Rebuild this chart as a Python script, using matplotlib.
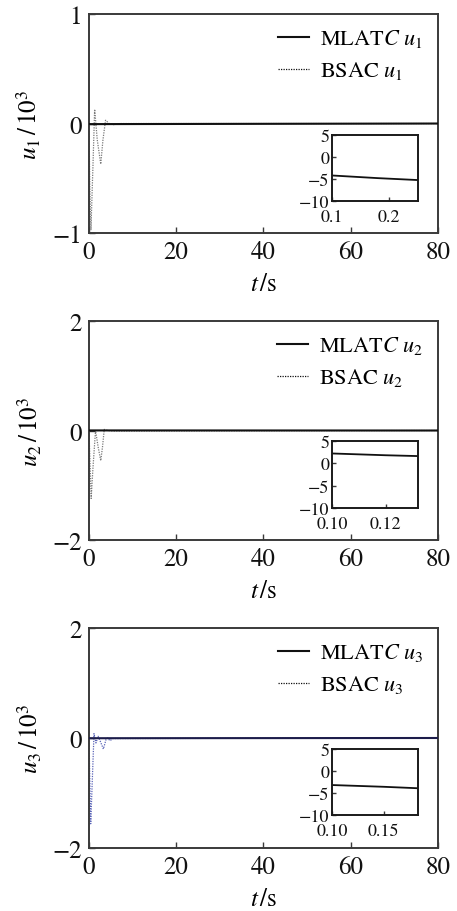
import matplotlib
matplotlib.use("Agg")
import numpy as np
import matplotlib.pyplot as plt

plt.rcParams["font.family"] = "STIXGeneral"
plt.rcParams["mathtext.fontset"] = "stix"

# BSAC control inputs (units of 10^3)
bsac_t1 = [0, 0.2, 0.45, 0.9, 1.3, 1.9, 2.7, 3.2, 3.8, 4.6, 5.6, 7, 80]
bsac_u1 = [0, -0.6, -0.97, -0.40, 0.13, -0.15, -0.37, -0.15, 0.03, 0.0, -0.01, 0, 0]
bsac_t2 = [0, 0.5, 0.9, 1.5, 2.1, 2.7, 3.1, 3.5, 4.3, 5.5, 80]
bsac_u2 = [0, -1.24, -0.70, 0.0, -0.3, -0.55, -0.3, 0.02, 0.0, -0.01, 0]
bsac_t3 = [0, 0.4, 1.15, 1.6, 2.1, 2.7, 3.3, 3.9, 4.3, 4.8, 5.5, 80]
bsac_u3 = [0, -1.56, 0.08, -0.09, 0.03, -0.08, -0.2, -0.03, 0.0, -0.05, -0.01, 0]

# MLATC control inputs (raw units)
mlatc_t1 = [0, 0.1, 0.18, 0.26, 80]
mlatc_u1 = [-4.0, -4.2, -4.8, -5.3, 0]
mlatc_t2 = [0, 0.1, 0.12, 0.133, 80]
mlatc_u2 = [2.2, 2.2, 1.8, 1.6, 0]
mlatc_t3 = [0, 0.1, 0.15, 0.19, 80]
mlatc_u3 = [-3.2, -3.2, -3.6, -4.0, 0]

panels = [
    dict(bt=bsac_t1, bu=bsac_u1, mt=mlatc_t1, mu=mlatc_u1, ylim=1, idx="1",
         ix=(0.1, 0.251), ixt=[0.1, 0.2], ixl=["0.1", "0.2"],
         bsac_c="#7a7a7a", mlatc_c="#111111"),
    dict(bt=bsac_t2, bu=bsac_u2, mt=mlatc_t2, mu=mlatc_u2, ylim=2, idx="2",
         ix=(0.1, 0.132), ixt=[0.10, 0.12], ixl=["0.10", "0.12"],
         bsac_c="#7a7a7a", mlatc_c="#111111"),
    dict(bt=bsac_t3, bu=bsac_u3, mt=mlatc_t3, mu=mlatc_u3, ylim=2, idx="3",
         ix=(0.1, 0.183), ixt=[0.10, 0.15], ixl=["0.10", "0.15"],
         bsac_c="#5a64b8", mlatc_c="#1c1c4a"),
]

main_rects = [
    [0.1947, 0.7434, 0.7637, 0.2401],
    [0.1947, 0.4068, 0.7637, 0.2401],
    [0.1947, 0.0691, 0.7637, 0.2412],
]
inset_rects = [
    [0.7265, 0.7785, 0.1882, 0.0724],
    [0.7265, 0.4419, 0.1882, 0.0735],
    [0.7265, 0.1053, 0.1882, 0.0724],
]

FRAME = "#3a3a3a"

fig = plt.figure(figsize=(4.57, 9.12), dpi=100)

for p, rect, irect in zip(panels, main_rects, inset_rects):
    ax = fig.add_axes(rect)
    mu_main = np.asarray(p["mu"]) / 1000.0
    ax.plot(p["mt"], mu_main, color=p["mlatc_c"], lw=1.5,
            label=r"MLAT$C\ u_{%s}$" % p["idx"], zorder=3)
    ax.plot(p["bt"], p["bu"], color=p["bsac_c"], lw=0.9, ls=(0, (1, 1)),
            label=r"BSAC$\ u_{%s}$" % p["idx"], zorder=2)
    ax.set_xlim(0, 80)
    ax.set_ylim(-p["ylim"], p["ylim"])
    ax.set_xticks([0, 20, 40, 60, 80])
    ax.set_yticks([-p["ylim"], 0, p["ylim"]])
    ax.tick_params(direction="in", length=4, width=1, labelsize=18,
                   colors=FRAME, labelcolor="#111111", pad=5)
    for s in ax.spines.values():
        s.set_color(FRAME)
        s.set_linewidth(1.4)
    ax.set_xlabel(r"$t\,/\mathrm{s}$", fontsize=18, labelpad=6)
    ax.set_ylabel(r"$u_{%s}\,/\,10^{3}$" % p["idx"], fontsize=18, labelpad=6)
    leg = ax.legend(loc="upper right", frameon=False, fontsize=16,
                    handlelength=1.4, handletextpad=0.5, labelspacing=0.45,
                    borderaxespad=0.2, bbox_to_anchor=(0.995, 1.0))
    for h in leg.get_lines():
        h.set_color("#111111")

    ins = fig.add_axes(irect)
    ins.plot(p["mt"], p["mu"], color="#111111", lw=1.3)
    ins.set_xlim(*p["ix"])
    ins.set_ylim(-10, 5)
    ins.set_xticks(p["ixt"])
    ins.set_xticklabels(p["ixl"])
    ins.set_yticks([-10, -5, 0, 5])
    ins.set_yticklabels(["\u221210", "\u22125", "0", "5"])
    ins.tick_params(direction="in", length=3, width=1, labelsize=13,
                    colors=FRAME, labelcolor="#111111", pad=2)
    ins.tick_params(axis="x", pad=6)
    for s in ins.spines.values():
        s.set_color("#1a1a1a")
        s.set_linewidth(1.4)

fig.savefig("out.png", dpi=100)
